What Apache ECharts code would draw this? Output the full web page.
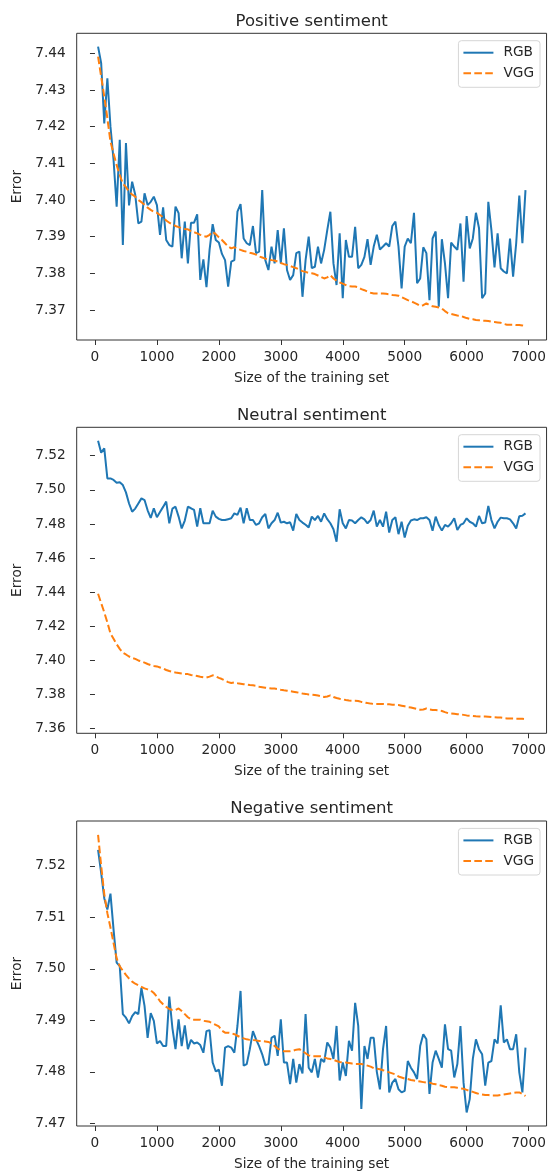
<!DOCTYPE html>
<html lang="en">
<head>
    <meta charset="UTF-8">
    <title>Error vs size of the training set</title>
    <script src="https://cdn.jsdelivr.net/npm/echarts@6/dist/echarts.min.js"></script>
</head>
<body style="margin:0;background:#fff;">
<div id="main" style="width:549px;height:1172px;"></div>
<script>
    // x: size of the training set
    const sizes = [
        50, 100, 150, 200, 250, 300, 350, 400, 450, 500,
        550, 600, 650, 700, 750, 800, 850, 900, 950, 1000,
        1050, 1100, 1150, 1200, 1250, 1300, 1350, 1400, 1450, 1500,
        1550, 1600, 1650, 1700, 1750, 1800, 1850, 1900, 1950, 2000,
        2050, 2100, 2150, 2200, 2250, 2300, 2350, 2400, 2450, 2500,
        2550, 2600, 2650, 2700, 2750, 2800, 2850, 2900, 2950, 3000,
        3050, 3100, 3150, 3200, 3250, 3300, 3350, 3400, 3450, 3500,
        3550, 3600, 3650, 3700, 3750, 3800, 3850, 3900, 3950, 4000,
        4050, 4100, 4150, 4200, 4250, 4300, 4350, 4400, 4450, 4500,
        4550, 4600, 4650, 4700, 4750, 4800, 4850, 4900, 4950, 5000,
        5050, 5100, 5150, 5200, 5250, 5300, 5350, 5400, 5450, 5500,
        5550, 5600, 5650, 5700, 5750, 5800, 5850, 5900, 5950, 6000,
        6050, 6100, 6150, 6200, 6250, 6300, 6350, 6400, 6450, 6500,
        6550, 6600, 6650, 6700, 6750, 6800, 6850, 6900, 6950
    ];

    // Positive sentiment
    const posRgb = [
        7.4418, 7.4373, 7.4209, 7.4332, 7.4200, 7.4109, 7.3982, 7.4164, 7.3877, 7.4155,
        7.3985, 7.4050, 7.4014, 7.3936, 7.3941, 7.4018, 7.3986, 7.3995, 7.4009, 7.3986,
        7.3905, 7.3980, 7.3891, 7.3877, 7.3873, 7.3982, 7.3964, 7.3841, 7.3941, 7.3827,
        7.3938, 7.3938, 7.3961, 7.3782, 7.3838, 7.3762, 7.3864, 7.3934, 7.3891, 7.3884,
        7.3853, 7.3836, 7.3764, 7.3832, 7.3836, 7.3968, 7.3989, 7.3895, 7.3882, 7.3877,
        7.3929, 7.3855, 7.3859, 7.4027, 7.3836, 7.3809, 7.3873, 7.3827, 7.3918, 7.3827,
        7.3923, 7.3809, 7.3782, 7.3795, 7.3855, 7.3859, 7.3736, 7.3836, 7.3900, 7.3814,
        7.3818, 7.3873, 7.3827, 7.3864, 7.3918, 7.3968, 7.3827, 7.3768, 7.3909, 7.3732,
        7.3891, 7.3845, 7.3845, 7.3927, 7.3814, 7.3823, 7.3845, 7.3893, 7.3823, 7.3873,
        7.3905, 7.3865, 7.3873, 7.3882, 7.3873, 7.3929, 7.3941, 7.3873, 7.3759, 7.3873,
        7.3895, 7.3882, 7.3965, 7.3773, 7.3786, 7.3871, 7.3855, 7.3727, 7.3895, 7.3914,
        7.3709, 7.3893, 7.3827, 7.3732, 7.3884, 7.3873, 7.3864, 7.3936, 7.3777, 7.3956,
        7.3868, 7.3895, 7.3965, 7.3923, 7.3732, 7.3745, 7.3995, 7.3918, 7.3816, 7.3909,
        7.3814, 7.3805, 7.3800, 7.3895, 7.3791, 7.3882, 7.4012, 7.3882, 7.4027
    ];
    const posVgg = [
        7.4391, 7.4336, 7.4282, 7.4223, 7.4159, 7.4127, 7.4095, 7.4068, 7.4045, 7.4035,
        7.4023, 7.4015, 7.4009, 7.4000, 7.3994, 7.3987, 7.3979, 7.3973, 7.3968, 7.3965,
        7.3959, 7.3953, 7.3944, 7.3938, 7.3933, 7.3929, 7.3926, 7.3923, 7.3921, 7.3920,
        7.3915, 7.3912, 7.3909, 7.3905, 7.3902, 7.3900, 7.3905, 7.3913, 7.3907, 7.3898,
        7.3891, 7.3882, 7.3873, 7.3868, 7.3871, 7.3867, 7.3864, 7.3861, 7.3859, 7.3856,
        7.3854, 7.3851, 7.3846, 7.3843, 7.3840, 7.3838, 7.3836, 7.3835, 7.3832, 7.3828,
        7.3825, 7.3823, 7.3820, 7.3817, 7.3814, 7.3810, 7.3806, 7.3804, 7.3801, 7.3800,
        7.3798, 7.3794, 7.3790, 7.3786, 7.3789, 7.3795, 7.3786, 7.3780, 7.3775, 7.3772,
        7.3768, 7.3765, 7.3764, 7.3764, 7.3762, 7.3757, 7.3754, 7.3750, 7.3747, 7.3745,
        7.3745, 7.3745, 7.3745, 7.3744, 7.3743, 7.3741, 7.3740, 7.3739, 7.3735, 7.3731,
        7.3727, 7.3724, 7.3720, 7.3716, 7.3711, 7.3713, 7.3718, 7.3713, 7.3710, 7.3709,
        7.3707, 7.3704, 7.3697, 7.3691, 7.3689, 7.3687, 7.3685, 7.3684, 7.3681, 7.3678,
        7.3676, 7.3675, 7.3673, 7.3672, 7.3671, 7.3671, 7.3670, 7.3668, 7.3667, 7.3666,
        7.3665, 7.3662, 7.3660, 7.3660, 7.3660, 7.3659, 7.3659, 7.3658, 7.3655
    ];

    // Neutral sentiment
    const neuRgb = [
        7.5288, 7.5218, 7.5243, 7.5067, 7.5067, 7.5058, 7.5042, 7.5045, 7.5028, 7.4985,
        7.4920, 7.4872, 7.4890, 7.4920, 7.4950, 7.4940, 7.4880, 7.4835, 7.4892, 7.4839,
        7.4870, 7.4900, 7.4931, 7.4804, 7.4890, 7.4901, 7.4843, 7.4774, 7.4820, 7.4901,
        7.4892, 7.4882, 7.4784, 7.4892, 7.4804, 7.4804, 7.4804, 7.4878, 7.4843, 7.4830,
        7.4823, 7.4823, 7.4828, 7.4833, 7.4862, 7.4853, 7.4896, 7.4804, 7.4892, 7.4823,
        7.4823, 7.4794, 7.4804, 7.4839, 7.4858, 7.4774, 7.4804, 7.4823, 7.4866, 7.4808,
        7.4813, 7.4804, 7.4810, 7.4761, 7.4858, 7.4823, 7.4808, 7.4795, 7.4780, 7.4843,
        7.4823, 7.4847, 7.4813, 7.4862, 7.4828, 7.4804, 7.4769, 7.4696, 7.4886, 7.4804,
        7.4774, 7.4823, 7.4820, 7.4804, 7.4823, 7.4839, 7.4827, 7.4804, 7.4823, 7.4878,
        7.4784, 7.4823, 7.4784, 7.4872, 7.4750, 7.4823, 7.4839, 7.4740, 7.4813, 7.4720,
        7.4790, 7.4820, 7.4827, 7.4823, 7.4833, 7.4833, 7.4839, 7.4823, 7.4760, 7.4843,
        7.4794, 7.4761, 7.4794, 7.4784, 7.4804, 7.4833, 7.4764, 7.4794, 7.4804, 7.4833,
        7.4813, 7.4804, 7.4784, 7.4847, 7.4804, 7.4808, 7.4905, 7.4823, 7.4774, 7.4813,
        7.4837, 7.4833, 7.4833, 7.4827, 7.4804, 7.4774, 7.4845, 7.4848, 7.4862
    ];
    // the VGG curve of the neutral panel is the same one as in the positive panel
    const neuVgg = posVgg.slice();

    // Negative sentiment
    const negRgb = [
        7.5231, 7.5186, 7.5137, 7.5115, 7.5146, 7.5076, 7.5012, 7.5005, 7.4912, 7.4905,
        7.4894, 7.4908, 7.4916, 7.4912, 7.4963, 7.4928, 7.4866, 7.4914, 7.4899, 7.4855,
        7.4860, 7.4850, 7.4850, 7.4946, 7.4885, 7.4844, 7.4902, 7.4850, 7.4890, 7.4844,
        7.4862, 7.4855, 7.4857, 7.4852, 7.4837, 7.4879, 7.4881, 7.4818, 7.4801, 7.4804,
        7.4773, 7.4847, 7.4850, 7.4847, 7.4837, 7.4889, 7.4957, 7.4812, 7.4815, 7.4844,
        7.4879, 7.4863, 7.4850, 7.4834, 7.4813, 7.4815, 7.4866, 7.4870, 7.4831, 7.4902,
        7.4818, 7.4818, 7.4776, 7.4825, 7.4779, 7.4815, 7.4797, 7.4912, 7.4808, 7.4799,
        7.4825, 7.4789, 7.4825, 7.4819, 7.4857, 7.4847, 7.4825, 7.4889, 7.4783, 7.4818,
        7.4792, 7.4860, 7.4841, 7.4934, 7.4889, 7.4728, 7.4850, 7.4825, 7.4866, 7.4866,
        7.4800, 7.4766, 7.4844, 7.4889, 7.4760, 7.4779, 7.4786, 7.4766, 7.4760, 7.4763,
        7.4821, 7.4808, 7.4799, 7.4786, 7.4850, 7.4873, 7.4863, 7.4757, 7.4818, 7.4841,
        7.4825, 7.4808, 7.4892, 7.4844, 7.4841, 7.4789, 7.4815, 7.4889, 7.4779, 7.4721,
        7.4747, 7.4825, 7.4863, 7.4844, 7.4834, 7.4773, 7.4818, 7.4821, 7.4863, 7.4855,
        7.4929, 7.4857, 7.4863, 7.4844, 7.4844, 7.4873, 7.4799, 7.4760, 7.4847
    ];
    const negVgg = [
        7.5260, 7.5200, 7.5145, 7.5108, 7.5080, 7.5050, 7.5020, 7.5005, 7.4996, 7.4988,
        7.4981, 7.4975, 7.4971, 7.4968, 7.4965, 7.4962, 7.4960, 7.4958, 7.4953, 7.4946,
        7.4937, 7.4931, 7.4926, 7.4922, 7.4920, 7.4920, 7.4923, 7.4918, 7.4912, 7.4906,
        7.4902, 7.4901, 7.4901, 7.4901, 7.4899, 7.4898, 7.4897, 7.4894, 7.4891, 7.4888,
        7.4880, 7.4876, 7.4876, 7.4875, 7.4873, 7.4870, 7.4867, 7.4865, 7.4863, 7.4862,
        7.4862, 7.4861, 7.4860, 7.4860, 7.4859, 7.4858, 7.4855, 7.4850, 7.4845, 7.4842,
        7.4840, 7.4840, 7.4840, 7.4841, 7.4843, 7.4844, 7.4840, 7.4836, 7.4832, 7.4830,
        7.4830, 7.4830, 7.4830, 7.4828, 7.4826, 7.4825, 7.4823, 7.4821, 7.4819, 7.4818,
        7.4818, 7.4817, 7.4816, 7.4815, 7.4815, 7.4815, 7.4814, 7.4812, 7.4810, 7.4807,
        7.4806, 7.4805, 7.4803, 7.4801, 7.4799, 7.4797, 7.4795, 7.4791, 7.4789, 7.4787,
        7.4786, 7.4784, 7.4783, 7.4782, 7.4781, 7.4780, 7.4779, 7.4779, 7.4777, 7.4776,
        7.4774, 7.4773, 7.4771, 7.4770, 7.4770, 7.4770, 7.4769, 7.4768, 7.4767, 7.4765,
        7.4763, 7.4761, 7.4759, 7.4757, 7.4756, 7.4755, 7.4755, 7.4754, 7.4754, 7.4754,
        7.4755, 7.4756, 7.4757, 7.4758, 7.4759, 7.4760, 7.4760, 7.4757, 7.4753
    ];

    // tick labels
    const xTicks = [0, 1000, 2000, 3000, 4000, 5000, 6000, 7000];
    const posTicks = [7.37, 7.38, 7.39, 7.40, 7.41, 7.42, 7.43, 7.44];
    const neuTicks = [7.36, 7.38, 7.40, 7.42, 7.44, 7.46, 7.48, 7.50, 7.52];
    const negTicks = [7.47, 7.48, 7.49, 7.50, 7.51, 7.52];

    const font = 'DejaVu Sans';
    const textColor = '#262626';
    const frameColor = '#333';

    // one entry per subplot
    const panels = [
        {title: 'Positive sentiment', rgb: posRgb, vgg: posVgg, ticks: posTicks, min: 7.36182, max: 7.44545, top: 33.3, height: 306.7},
        {title: 'Neutral sentiment', rgb: neuRgb, vgg: neuVgg, ticks: neuTicks, min: 7.3573, max: 7.53665, top: 427.3, height: 306},
        {title: 'Negative sentiment', rgb: negRgb, vgg: negVgg, ticks: negTicks, min: 7.46948, max: 7.52869, top: 821, height: 306.7}
    ];

    function pairs(ys) {
        return sizes.map((x, i) => [x, ys[i]]);
    }

    let option = {
        animation: false,
        backgroundColor: '#fff',
        title: [],
        grid: [],
        xAxis: [],
        yAxis: [],
        legend: [],
        series: []
    };

    panels.forEach((p, i) => {
        option.title.push({
            text: p.title,
            left: 311.7,
            top: p.top - 20.5,
            textAlign: 'center',
            padding: 0,
            textStyle: {fontFamily: font, fontSize: 16.5, fontWeight: 'normal', color: textColor}
        });
        option.grid.push({
            left: 76.7, right: 2.3, top: p.top, height: p.height,
            show: true, borderColor: frameColor, borderWidth: 1, backgroundColor: 'transparent'
        });
        option.xAxis.push({
            type: 'value', gridIndex: i, min: -295, max: 7290,
            name: 'Size of the training set', nameLocation: 'middle', nameGap: 31,
            nameTextStyle: {fontFamily: font, fontSize: 13.7, color: textColor},
            axisLine: {show: false},
            splitLine: {show: false},
            axisTick: {show: true, length: 5, customValues: xTicks, lineStyle: {color: frameColor, width: 1}},
            axisLabel: {
                customValues: xTicks, margin: 10, fontFamily: font, fontSize: 13.7, color: textColor,
                formatter: v => String(v)
            }
        });
        option.yAxis.push({
            type: 'value', gridIndex: i, min: p.min, max: p.max,
            name: 'Error', nameLocation: 'middle', nameGap: 44,
            nameTextStyle: {fontFamily: font, fontSize: 13.7, color: textColor},
            axisLine: {show: false},
            splitLine: {show: false},
            axisTick: {show: true, length: 5, customValues: p.ticks, lineStyle: {color: frameColor, width: 1}},
            axisLabel: {
                customValues: p.ticks, margin: 11, fontFamily: font, fontSize: 13.7, color: textColor,
                formatter: v => v.toFixed(2)
            }
        });
        option.legend.push({
            orient: 'vertical', right: 9, top: p.top + 7.4,
            itemWidth: 30, itemHeight: 14, itemGap: 6.6,
            padding: [5, 6, 7, 4],
            borderColor: '#d6d6d6', borderWidth: 1, borderRadius: 3,
            backgroundColor: 'rgba(255,255,255,0.8)',
            itemStyle: {opacity: 0},
            textStyle: {fontFamily: font, fontSize: 13.7, color: textColor, padding: [0, 0, 0, 5]},
            data: ['RGB', 'VGG']
        });
        option.series.push({
            name: 'RGB', type: 'line', xAxisIndex: i, yAxisIndex: i,
            data: pairs(p.rgb), symbol: 'none', showSymbol: false,
            color: '#1f77b4',
            lineStyle: {color: '#1f77b4', width: 2}
        });
        option.series.push({
            name: 'VGG', type: 'line', xAxisIndex: i, yAxisIndex: i,
            data: pairs(p.vgg), symbol: 'none', showSymbol: false,
            color: '#ff7f0e',
            lineStyle: {color: '#ff7f0e', width: 2, type: [7.6, 3.3]}
        });
    });

    var myChart = echarts.init(document.getElementById('main'));
    myChart.setOption(option);
</script>
</body>
</html>
